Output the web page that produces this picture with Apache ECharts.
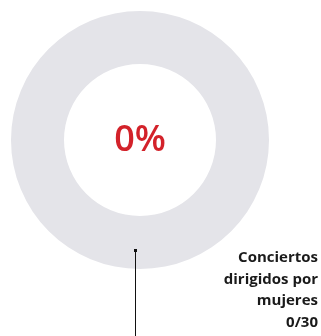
<!DOCTYPE html>
<html><head><meta charset="utf-8">
<script src="https://cdn.jsdelivr.net/npm/echarts@6/dist/echarts.min.js"></script>
<style>html,body{margin:0;padding:0;background:#fff}#c{width:321px;height:336px}</style>
</head><body><div id="c"></div>
<script>
const categories = ['Mujeres', 'Hombres'];
const values = [0, 30];
const total = values.reduce((a, b) => a + b, 0);
const pct = Math.round(values[0] / total * 100) + '%';
const caption = ['Conciertos', 'dirigidos por', 'mujeres', values[0] + '/' + total];

const chart = echarts.init(document.getElementById('c'), null, {renderer: 'canvas'});
chart.setOption({
  animation: false,
  series: [{
    type: 'pie',
    center: [140, 140],
    radius: [76, 129],
    startAngle: 90,
    silent: true,
    z: 1,
    label: {show: false},
    labelLine: {show: false},
    data: categories.map((c, i) => ({
      name: c, value: values[i],
      itemStyle: {color: i === 0 ? '#d3222a' : '#e4e4e9'}
    }))
  }],
  graphic: {
    elements: [
      {
        type: 'text', x: 140, y: 141, z: 100,
        style: {text: pct, fill: '#d3222a', font: '600 36px "Open Sans", sans-serif', align: 'center', verticalAlign: 'middle'}
      },
      {
        type: 'line', z: 100, shape: {x1: 135.5, y1: 250, x2: 135.5, y2: 336},
        style: {stroke: '#111', lineWidth: 1}
      },
      {
        type: 'rect', z: 100, shape: {x: 134, y: 249, width: 3, height: 3},
        style: {fill: '#111'}
      },
      {
        type: 'text', x: 318, y: 247, z: 100,
        style: {text: caption.join('\n'), fill: '#1a1a1a', font: 'bold 15px "Open Sans", sans-serif', align: 'right', verticalAlign: 'top', lineHeight: 21.5}
      }
    ]
  }
});
</script></body></html>
